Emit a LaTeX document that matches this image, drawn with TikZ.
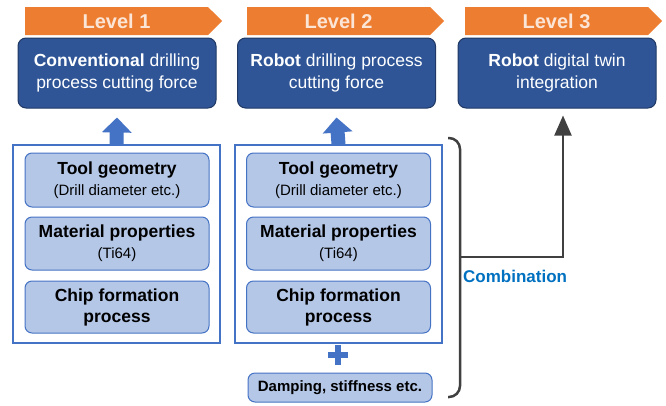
\documentclass[tikz,border=0pt]{standalone}
\usepackage{fontspec}
\setmainfont{Liberation Sans}
\usetikzlibrary{shapes.symbols,arrows.meta}
\definecolor{lvorange}{HTML}{ED7D31}
\definecolor{lvtext}{HTML}{FBE5D6}
\definecolor{darkblue}{HTML}{2F5597}
\definecolor{darkline}{HTML}{203864}
\definecolor{midblue}{HTML}{4472C4}
\definecolor{lightblue}{HTML}{B4C7E7}
\definecolor{bracegray}{HTML}{404040}
\definecolor{combblue}{HTML}{0070C0}
\newcommand{\notefont}{\fontsize{15}{18}\selectfont\mdseries}

\begin{document}
\begin{tikzpicture}[x=1pt,y=-1pt,
    every node/.style={inner sep=0pt,align=center},
    level/.style={signal,signal to=east,fill=lvorange,text=lvtext,minimum width=197pt,minimum height=28pt,font=\fontsize{20}{24}\selectfont\bfseries},
    result/.style={draw=darkline,fill=darkblue,line width=1pt,rounded corners=8pt,text=white,minimum width=198pt,minimum height=70pt,font=\fontsize{17.5}{22}\selectfont},
    group/.style={draw=midblue,line width=1.5pt,minimum width=207pt,minimum height=198pt},
    factor/.style={draw=midblue,fill=lightblue,line width=1pt,rounded corners=7pt,minimum width=184pt,font=\fontsize{17.5}{21}\selectfont\bfseries},
    blockarrow/.style={midblue,line width=14pt,-{Triangle[width=29pt,length=15pt]}},
    combiarrow/.style={bracegray,line width=2pt,-{Triangle[width=17pt,length=20pt]}},
    brace/.style={bracegray,line width=2.5pt,rounded corners=11pt}]
  \useasboundingbox (0,0) rectangle (666,405);

  % levels
  \node[level] (lv1) at (116.5,21) {Level 1};
  \node[level] (lv2) at (338.5,21) {Level 2};
  \node[level] (lv3) at (556.5,21) {Level 3};
  \node[result] (r1) at (117,73) {\textbf{Conventional} drilling\\process cutting force};
  \node[result] (r2) at (336.5,73) {\textbf{Robot} drilling process\\cutting force};
  \node[result] (r3) at (557,73) {\textbf{Robot} digital twin\\integration};

  % input groups
  \node[group] (g1) at (116.5,244) {};
  \node[group] (g2) at (338.5,244) {};
  \node[factor,minimum height=54pt] (tool1) at (117,180) {Tool geometry\\{\notefont (Drill diameter etc.)}};
  \node[factor,minimum height=53pt] (mat1) at (117,243.5) {Material properties\\{\notefont (Ti64)}};
  \node[factor,minimum height=52pt] (chip1) at (117,307) {Chip formation\\process};
  \node[factor,minimum height=54pt] (tool2) at (338.5,180) {Tool geometry\\{\notefont (Drill diameter etc.)}};
  \node[factor,minimum height=53pt] (mat2) at (338.5,243.5) {Material properties\\{\notefont (Ti64)}};
  \node[factor,minimum height=52pt] (chip2) at (338.5,307) {Chip formation\\process};
  \node[factor,minimum height=29pt,font=\fontsize{15}{18}\selectfont\bfseries] (damp) at (340,387.5) {Damping, stiffness etc.};

  \draw[blockarrow] (g1.north) -- ([yshift=-9pt]r1.south);
  \draw[blockarrow] (g2.north) -- ([yshift=-9pt]r2.south);

  \coordinate (plus) at (338,355);
  \draw[midblue,line width=6pt] ([xshift=-10pt]plus) -- ([xshift=10pt]plus)
    ([yshift=-10pt]plus) -- ([yshift=10pt]plus);

  % combination
  \coordinate (bt) at (448,138);
  \coordinate (bb) at (448,397);
  \coordinate (bm) at (460,257);
  \draw[brace] (bt) -- (460,138) -- (460,397) -- (bb);
  \draw[combiarrow] (bm) -| ([xshift=6pt,yshift=-7pt]r3.south);
  \node[anchor=west,text=combblue,font=\fontsize{17}{20}\selectfont\bfseries] (comb) at (463,276) {Combination};
\end{tikzpicture}
\end{document}
